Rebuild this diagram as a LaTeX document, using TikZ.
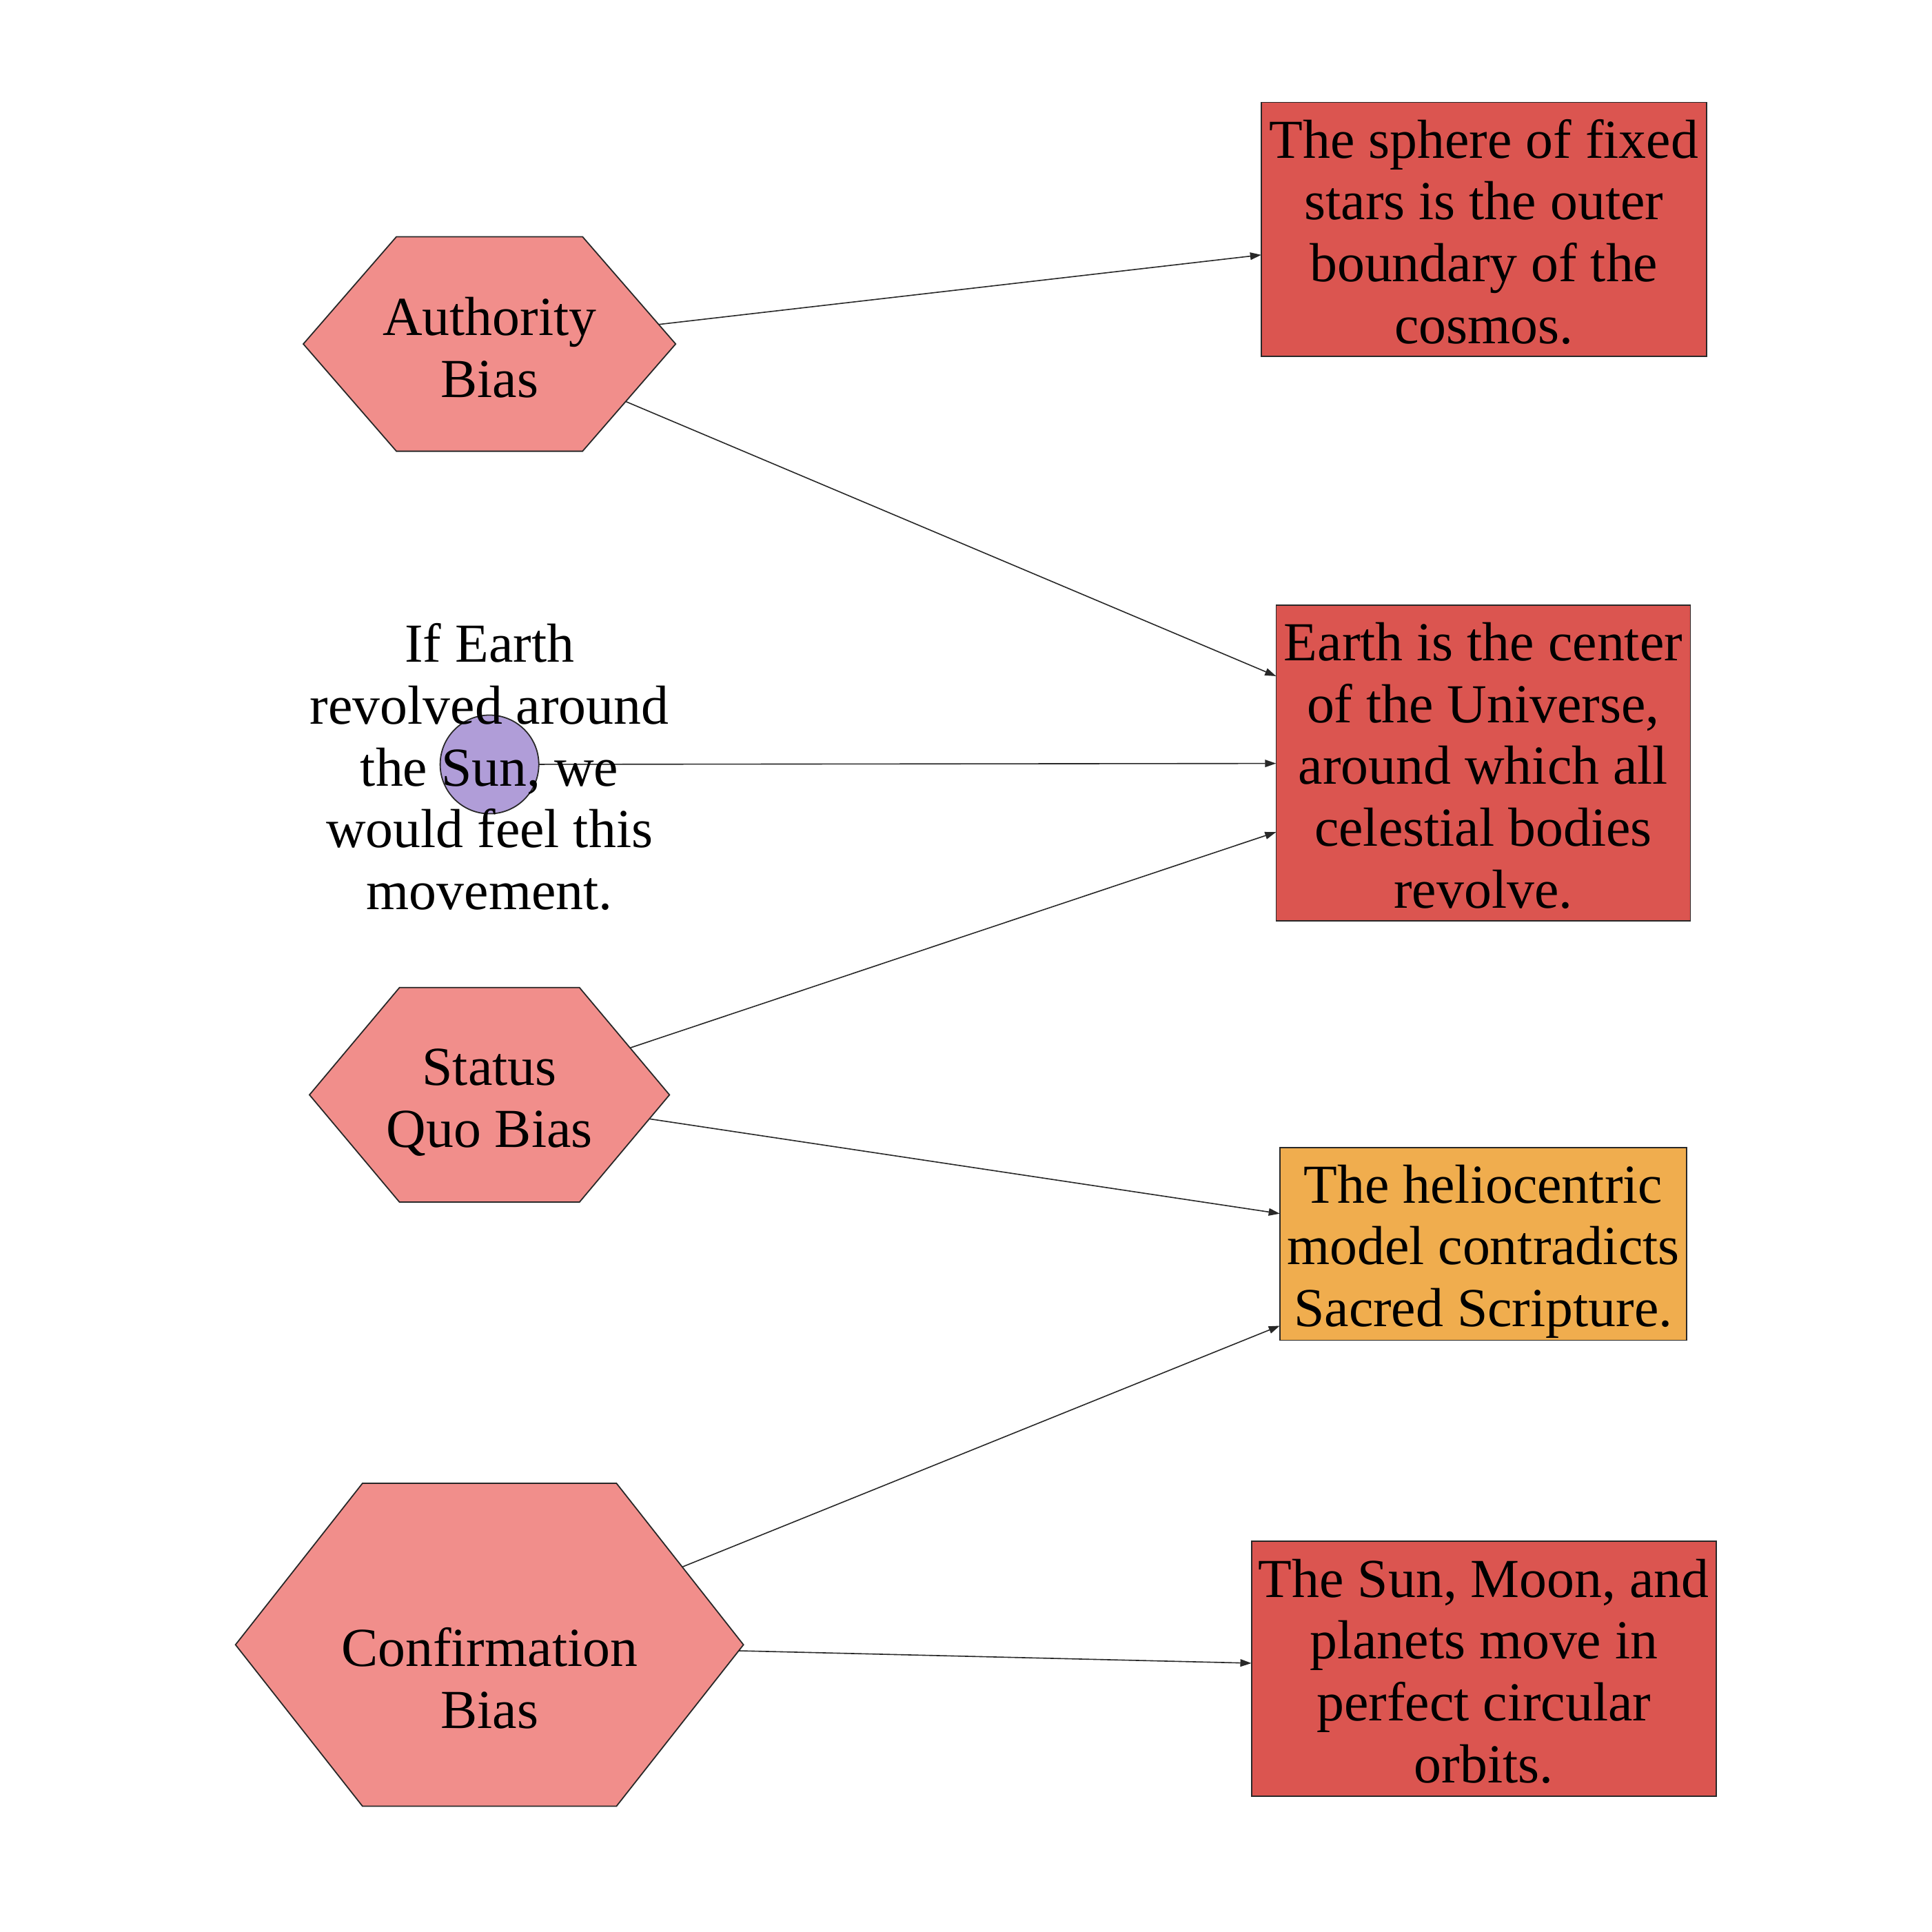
\documentclass[tikz,border=0pt]{standalone}
\usepackage{fontspec}
\setmainfont{Liberation Serif}
\usetikzlibrary{shapes.geometric,arrows.meta}
\definecolor{hexfill}{RGB}{241,142,139}
\definecolor{boxred}{RGB}{219,85,80}
\definecolor{boxorange}{RGB}{240,173,78}
\definecolor{sunfill}{RGB}{176,157,216}
\definecolor{edgecol}{RGB}{40,40,40}
\begin{document}
\begin{tikzpicture}[x=0.5pt,y=-0.5pt,
  hexa/.style={regular polygon, regular polygon sides=6, draw=edgecol, fill=hexfill, line width=0.5pt, inner sep=0pt, outer sep=0pt},
  lbl/.style={align=center, font=\fontsize{22.3}{25.1}\selectfont, inner sep=0pt},
  claim/.style={rectangle, draw=edgecol, line width=0.5pt, inner sep=0pt, outer sep=0pt},
  link/.style={draw=edgecol, line width=0.45pt, -{Triangle[length=4.5pt,width=3pt]}}]
\useasboundingbox (0,0) rectangle (1567,1567);
% hexagons
\begin{scope}[shift={(397,279)}]
  \node[hexa, minimum size=151pt, yscale=0.665] (auth) at (0,0) {};
\end{scope}
\begin{scope}[shift={(397,888)}]
  \node[hexa, minimum size=146pt, yscale=0.688] (squo) at (0,0) {};
\end{scope}
\begin{scope}[shift={(397,1334)}]
  \node[hexa, minimum size=206pt, yscale=0.734] (conf) at (0,0) {};
\end{scope}
% claim boxes
\node[claim, fill=boxred, minimum width=180.5pt, minimum height=103pt] (b1) at (1203.5,186) {};
\node[claim, fill=boxred, minimum width=168pt, minimum height=128pt] (b2) at (1203,619) {};
\node[claim, fill=boxorange, minimum width=165pt, minimum height=78pt] (b3) at (1203,1009) {};
\node[claim, fill=boxred, minimum width=188.5pt, minimum height=103.5pt] (b4) at (1203.5,1353.5) {};
% sun
\node[circle, draw=edgecol, fill=sunfill, line width=0.5pt, minimum size=40pt, inner sep=0pt, outer sep=0pt] (sun) at (397,620) {};
% connectors
\draw[link] (auth) -- (b1);
\draw[link] (auth) -- (b2);
\draw[link] (sun) -- (b2);
\draw[link] (squo) -- (b2);
\draw[link] (squo) -- (b3);
\draw[link] (conf) -- (b3);
\draw[link] (conf) -- (b4);
% labels
\node[lbl] (b1T) at (1203.5,188) {The sphere of fixed\\stars is the outer\\boundary of the\\cosmos.};
\node[lbl] (b2T) at (1203,621) {Earth is the center\\of the Universe,\\around which all\\celestial bodies\\revolve.};
\node[lbl] (b3T) at (1203,1015) {The heliocentric\\model contradicts\\Sacred Scripture.};
\node[lbl] (b4T) at (1203.5,1355.5) {The Sun, Moon, and\\planets move in\\perfect circular\\orbits.};
\node[lbl] (authT) at (397,282) {Authority\\Bias};
\node[lbl] (squoT) at (397,894) {Status\\Quo Bias};
\node[lbl] (confT) at (397,1361) {Confirmation\\Bias};
\node[lbl] (sunT) at (397,622) {If Earth\\revolved around\\the Sun, we\\would feel this\\movement.};
\end{tikzpicture}
\end{document}
